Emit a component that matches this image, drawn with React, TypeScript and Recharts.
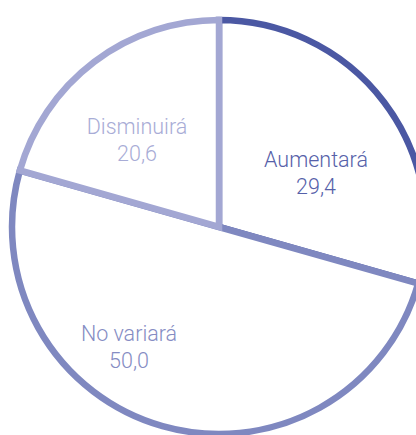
import { PieChart, Pie, Cell } from 'recharts'

const categories = ['Aumentará', 'No variará', 'Disminuirá']
const shares = [29.4, 50.0, 20.6]

const strokeColors = ['#4b58a3', '#7f88c0', '#a3a7d3']
const textColors = ['#5661a9', '#858cc3', '#a8acd6']

// label anchor offsets from the pie centre (x centre, first baseline)
const labelOffsets = [
  { dx: 97, dy: -60 },
  { dx: -90, dy: 114 },
  { dx: -82, dy: -93 },
]

const data = categories.map((name, i) => ({ name, value: shares[i] }))

const fmt = (v: number) => v.toFixed(1).replace('.', ',')

function renderLabel(props: any) {
  const { cx, cy, index, name, value } = props
  const off = labelOffsets[index]
  const x = cx + off.dx
  const y = cy + off.dy
  return (
    <text
      x={x}
      y={y}
      textAnchor="middle"
      fill={textColors[index]}
      fontFamily="Roboto, 'Liberation Sans', sans-serif"
      fontWeight={300}
      fontSize={21.5}
    >
      <tspan x={x} y={y}>{name}</tspan>
      <tspan x={x} y={y + 27}>{fmt(value)}</tspan>
    </text>
  )
}

export default function App() {
  return (
    <div style={{ position: 'absolute', left: 0, top: 0, width: 416, height: 435, overflow: 'hidden', background: '#fff' }}>
      <PieChart width={416} height={435} margin={{ top: 0, right: 0, bottom: 0, left: 0 }}>
        <Pie
          data={data}
          dataKey="value"
          nameKey="name"
          cx={219}
          cy={227}
          innerRadius={0}
          outerRadius={207}
          startAngle={90}
          endAngle={-270}
          label={renderLabel}
          labelLine={false}
          isAnimationActive={false}
        >
          {data.map((d, i) => (
            <Cell key={d.name} fill="#ffffff" stroke={strokeColors[i]} strokeWidth={6.5} />
          ))}
        </Pie>
      </PieChart>
    </div>
  )
}
